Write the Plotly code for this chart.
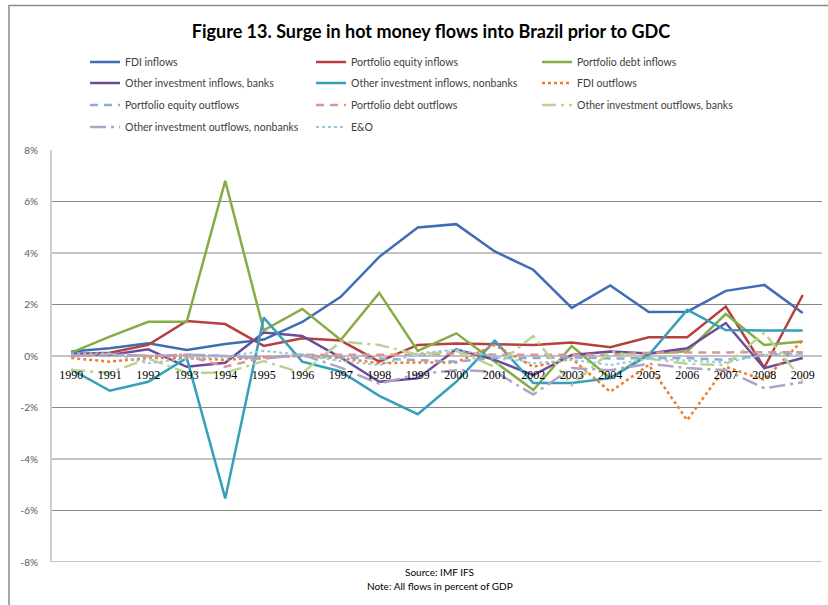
import plotly.graph_objects as go

years = [1990, 1991, 1992, 1993, 1994, 1995, 1996, 1997, 1998, 1999,
         2000, 2001, 2002, 2003, 2004, 2005, 2006, 2007, 2008, 2009]
year_labels = [str(y) for y in years]

fdi_in = [0.17, 0.3, 0.49, 0.23, 0.47, 0.64, 1.32, 2.3, 3.85, 4.99,
          5.12, 4.06, 3.35, 1.87, 2.74, 1.71, 1.72, 2.53, 2.76, 1.67]
pe_in = [0.08, 0.13, 0.43, 1.36, 1.24, 0.39, 0.69, 0.6, -0.22, 0.43,
         0.49, 0.46, 0.43, 0.52, 0.34, 0.73, 0.73, 1.92, -0.45, 2.37]
pd_in = [0.13, 0.75, 1.33, 1.33, 6.8, 1.0, 1.83, 0.62, 2.45, 0.2,
         0.88, -0.22, -1.32, 0.39, -0.86, 0.1, 0.18, 1.63, 0.43, 0.56]
oib_in = [0.1, 0.04, 0.26, -0.42, -0.26, 0.91, 0.78, -0.06, -1.0, -0.87,
          0.26, -0.15, -0.74, 0.04, 0.17, 0.1, 0.3, 1.28, -0.47, -0.08]
oinb_in = [-0.52, -1.35, -1.0, -0.08, -5.53, 1.49, -0.22, -0.6, -1.55, -2.26,
           -1.0, 0.6, -1.05, -1.05, -0.86, 0.04, 1.79, 1.01, 0.99, 0.99]
fdi_out = [-0.08, -0.22, -0.08, -0.08, -0.15, -0.05, 0.0, -0.08, -0.28, -0.25,
           -0.25, 0.43, -0.42, -0.1, -1.39, -0.35, -2.49, -0.42, -0.93, 0.62]
pe_out = [0.0, 0.02, 0.0, 0.05, 0.0, -0.1, 0.05, -0.05, -0.1, -0.15,
          -0.22, -0.08, -0.08, -0.05, -0.1, -0.08, -0.08, -0.15, 0.05, 0.1]
pd_out = [0.0, 0.05, 0.0, 0.02, -0.42, -0.05, 0.05, 0.05, 0.05, 0.05,
          0.1, 0.05, 0.05, 0.05, 0.05, 0.13, 0.13, 0.13, 0.13, 0.15]
oib_out = [-0.55, -0.65, -0.1, -0.65, -0.65, -0.2, -0.66, 0.56, 0.43, 0.05,
           0.2, -0.42, 0.78, -1.13, 0.17, -0.1, -0.3, -0.35, 0.9, -0.95]
oinb_out = [0.0, 0.08, 0.0, 0.05, 0.0, -0.1, 0.05, -0.45, -1.08, -0.7,
            -0.55, -0.6, -1.5, -0.47, -0.55, -0.3, -0.47, -0.55, -1.25, -1.02]
eo = [0.1, 0.1, -0.28, -0.1, -0.03, 0.2, 0.05, -0.2, -0.35, 0.1,
      0.25, -0.02, -0.28, -0.15, -0.35, -0.1, -0.18, -0.25, 0.05, 0.05]

y_ticks = [-8, -6, -4, -2, 0, 2, 4, 6, 8]
y_tick_labels = ["-8%", "-6%", "-4%", "-2%", "0%", "2%", "4%", "6%", "8%"]
grid_levels = [-8, -6, -4, -2, 0, 2, 4, 6]

series = [
    ("FDI inflows", fdi_in, "#3D6DB5", "solid", 2.5, "legend"),
    ("Portfolio equity inflows", pe_in, "#B5403D", "solid", 2.5, "legend"),
    ("Portfolio debt inflows", pd_in, "#86AD45", "solid", 2.5, "legend"),
    ("Other investment inflows, banks", oib_in, "#6B4C9A", "solid", 2.5, "legend2"),
    ("Other investment inflows, nonbanks", oinb_in, "#36A0BC", "solid", 2.5, "legend2"),
    ("FDI outflows", fdi_out, "#F07D2E", "dot", 2.5, "legend2"),
    ("Portfolio equity outflows", pe_out, "#8EABD8", "8px,6px", 2.5, "legend3"),
    ("Portfolio debt outflows", pd_out, "#D99694", "8px,6px", 2.5, "legend3"),
    ("Other investment outflows, banks", oib_out, "#B9D48E", "14px,5px,3px,5px", 2.5, "legend3"),
    ("Other investment outflows, nonbanks", oinb_out, "#B3A2C7", "16px,5px,3px,5px", 2.5, "legend4"),
    ("E&O", eo, "#8FCADB", "dot", 2, "legend4"),
]

fig = go.Figure()
for name, vals, color, dash, w, lg in series:
    fig.add_trace(go.Scatter(
        x=years, y=vals, name=name, mode="lines",
        line=dict(color=color, dash=dash, width=w),
        legend=lg,
    ))

W, H = 828, 605
L, R, T, B = 52, 6, 150, 43
pw, ph = W - L - R, H - T - B

def px_x(x):
    return (x - L) / pw

def px_y(y):
    return (H - B - y) / ph

shapes = []
for g in grid_levels:
    shapes.append(dict(type="line", xref="paper", yref="y", x0=0, x1=1, y0=g, y1=g,
                       line=dict(color="#868686", width=1), layer="below"))
# outer frame (left and top)
shapes.append(dict(type="path", xref="paper", yref="paper",
                   path=f"M {px_x(9)} {px_y(606)} L {px_x(9)} {px_y(5.5)} L {px_x(830)} {px_y(5.5)}",
                   line=dict(color="#8C8C8C", width=1.5)))

legend_font = dict(family="Lato, Open Sans, sans-serif", size=10.5, color="#404040")
row_y = [62, 83, 105, 127]
leg_common = dict(orientation="h", xanchor="left", yanchor="middle",
                  entrywidth=181, entrywidthmode="pixels", font=legend_font,
                  bgcolor="rgba(0,0,0,0)", itemclick=False, itemdoubleclick=False,
                  tracegroupgap=0, borderwidth=0)
legends = {}
for i, key in enumerate(["legend", "legend2", "legend3", "legend4"]):
    legends[key] = dict(x=px_x(85), y=px_y(row_y[i]), **leg_common)

fig.update_layout(
    width=W, height=H,
    margin=dict(l=L, r=R, t=T, b=B, autoexpand=False),
    paper_bgcolor="white", plot_bgcolor="white",
    showlegend=True,
    title=dict(text="<b>Figure 13. Surge in hot money flows into Brazil prior to GDC</b>",
               x=431 / W, xanchor="center",
               y=1 - 32 / H, yanchor="middle",
               font=dict(family="Lato, Open Sans, sans-serif", size=18, color="#000000")),
    xaxis=dict(range=[1989.5, 2009.5], tickvals=years, ticktext=year_labels,
               anchor="free", position=0.5, showgrid=False, zeroline=False,
               showline=False, ticks="", ticklabelstandoff=10, automargin=False,
               tickfont=dict(family="Liberation Serif, serif", size=12, color="#000000")),
    yaxis=dict(range=[-8, 8], tickvals=y_ticks, ticktext=y_tick_labels,
               showgrid=False, zeroline=False, showline=True, automargin=False,
               linecolor="#CFCFCF", linewidth=2, ticks="", ticklabelstandoff=10,
               tickfont=dict(family="Lato, Open Sans, sans-serif", size=10, color="#595959")),
    shapes=shapes,
    annotations=[
        dict(text="Source: IMF IFS", xref="paper", yref="paper",
             x=px_x(440), y=px_y(572), xanchor="center", yanchor="middle", showarrow=False,
             font=dict(family="Lato, Open Sans, sans-serif", size=10, color="#000000")),
        dict(text="Note: All flows in percent of GDP", xref="paper", yref="paper",
             x=px_x(440), y=px_y(586), xanchor="center", yanchor="middle", showarrow=False,
             font=dict(family="Lato, Open Sans, sans-serif", size=10, color="#000000")),
    ],
    **legends,
)

fig.write_html("out.html", config={"displayModeBar": False},
               post_script="document.body.style.margin='0px';")
